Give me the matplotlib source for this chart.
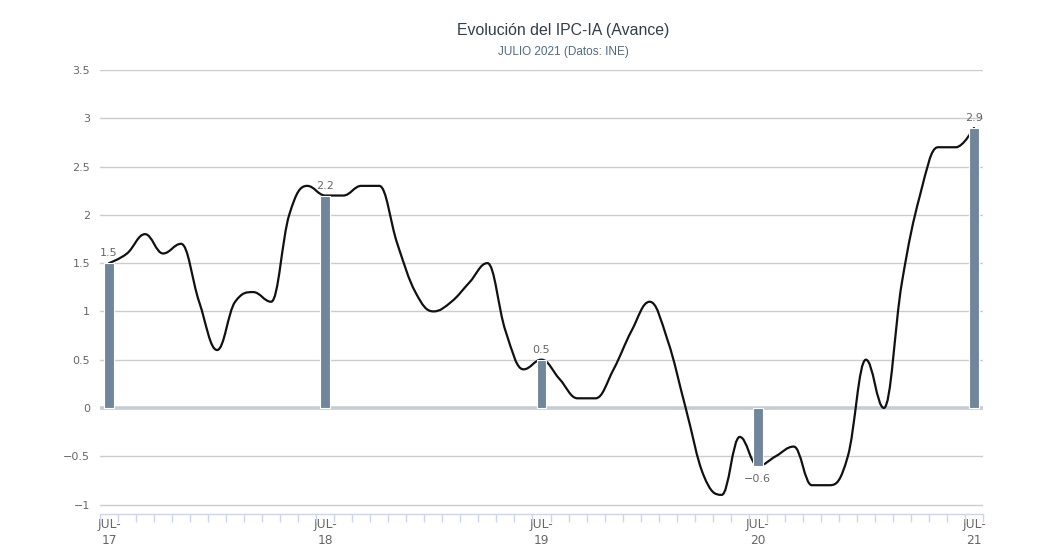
import matplotlib.pyplot as plt
from matplotlib.path import Path
from matplotlib.patches import PathPatch
import numpy as np

# IPC-IA tasa anual, jul-2017 .. jul-2021
meses = ['JUL-17', 'AGO-17', 'SEP-17', 'OCT-17', 'NOV-17', 'DIC-17',
         'ENE-18', 'FEB-18', 'MAR-18', 'ABR-18', 'MAY-18', 'JUN-18',
         'JUL-18', 'AGO-18', 'SEP-18', 'OCT-18', 'NOV-18', 'DIC-18',
         'ENE-19', 'FEB-19', 'MAR-19', 'ABR-19', 'MAY-19', 'JUN-19',
         'JUL-19', 'AGO-19', 'SEP-19', 'OCT-19', 'NOV-19', 'DIC-19',
         'ENE-20', 'FEB-20', 'MAR-20', 'ABR-20', 'MAY-20', 'JUN-20',
         'JUL-20', 'AGO-20', 'SEP-20', 'OCT-20', 'NOV-20', 'DIC-20',
         'ENE-21', 'FEB-21', 'MAR-21', 'ABR-21', 'MAY-21', 'JUN-21',
         'JUL-21']
ipc = [1.5, 1.6, 1.8, 1.6, 1.7, 1.1,
       0.6, 1.1, 1.2, 1.1, 2.0, 2.3,
       2.2, 2.2, 2.3, 2.3, 1.7, 1.2,
       1.0, 1.1, 1.3, 1.5, 0.8, 0.4,
       0.5, 0.3, 0.1, 0.1, 0.4, 0.8,
       1.1, 0.7, 0.0, -0.7, -0.9, -0.3,
       -0.6, -0.5, -0.4, -0.8, -0.8, -0.5,
       0.5, 0.0, 1.3, 2.2, 2.7, 2.7,
       2.9]
julios = ['JUL-17', 'JUL-18', 'JUL-19', 'JUL-20', 'JUL-21']
ipc_julio = [1.5, 2.2, 0.5, -0.6, 2.9]
etiquetas_x = ['JUL-\n17', 'JUL-\n18', 'JUL-\n19', 'JUL-\n20', 'JUL-\n21']


def spline_path(xs, ys, smoothing=1.5):
    # curva tipo "spline" de Highcharts
    denom = smoothing + 1
    n = len(xs)
    verts = [(xs[0], ys[0])]
    codes = [Path.MOVETO]
    right = [None] * n
    left = [None] * n
    for i in range(1, n - 1):
        px, py = xs[i], ys[i]
        lx, ly = xs[i - 1], ys[i - 1]
        nx, ny = xs[i + 1], ys[i + 1]
        lcx = (smoothing * px + lx) / denom
        lcy = (smoothing * py + ly) / denom
        rcx = (smoothing * px + nx) / denom
        rcy = (smoothing * py + ny) / denom
        if rcx != lcx:
            corr = (rcy - lcy) * (rcx - px) / (rcx - lcx) + py - rcy
            lcy += corr
            rcy += corr
        if lcy > ly and lcy > py:
            lcy = max(ly, py)
            rcy = 2 * py - lcy
        elif lcy < ly and lcy < py:
            lcy = min(ly, py)
            rcy = 2 * py - lcy
        if rcy > ny and rcy > py:
            rcy = max(ny, py)
            lcy = 2 * py - rcy
        elif rcy < ny and rcy < py:
            rcy = min(ny, py)
            lcy = 2 * py - rcy
        left[i] = (lcx, lcy)
        right[i] = (rcx, rcy)
    for i in range(1, n):
        c1 = right[i - 1] or (xs[i - 1], ys[i - 1])
        c2 = left[i] or (xs[i], ys[i])
        verts += [c1, c2, (xs[i], ys[i])]
        codes += [Path.CURVE4] * 3
    return Path(verts, codes)


fig = plt.figure(figsize=(10.44, 5.54), dpi=100)
ax = fig.add_axes([100 / 1044, 40.5 / 554, 883 / 1044, 443.5 / 554])

x = np.arange(len(meses))
pos_julio = [meses.index(m) for m in julios]

ax.set_xlim(-0.5, len(meses) - 0.5)
ax.set_ylim(-1.093, 3.5)

ax.set_yticks(np.arange(-1, 3.51, 0.5))
ax.set_yticklabels(['−1', '−0.5', '0', '0.5', '1', '1.5', '2', '2.5', '3', '3.5'])
ax.grid(axis='y', color='#cccccc', linewidth=1, zorder=0)
ax.axhline(0, color='#c3ced8', linewidth=2.6, zorder=1)

linea = PathPatch(spline_path(x.astype(float), ipc), facecolor='none',
                  edgecolor='#111111', linewidth=1.6, zorder=2,
                  capstyle='round', joinstyle='round')
ax.add_patch(linea)

ax.bar(pos_julio, ipc_julio, width=0.55, color='#72869b',
       edgecolor='white', linewidth=0.8, zorder=3)

for p, v in zip(pos_julio, ipc_julio):
    txt = f'{v:.1f}'.replace('-', '−')
    if v >= 0:
        ax.text(p, v + 0.05, txt, ha='center', va='bottom', fontsize=8,
                color='#666666', zorder=4)
    else:
        ax.text(p, v - 0.08, txt, ha='center', va='top', fontsize=8,
                color='#666666', zorder=4)

ax.set_xticks(pos_julio)
ax.set_xticklabels(etiquetas_x, fontsize=8.8, color='#666666', linespacing=1.35)
ax.set_xticks(np.arange(-0.5, len(meses)), minor=True)
ax.tick_params(axis='x', which='major', length=0, pad=3)
ax.tick_params(axis='x', which='minor', length=6, color='#ccd6eb', width=1)
ax.tick_params(axis='y', length=0, pad=7, labelsize=8, labelcolor='#666666')

for s in ['top', 'right', 'left']:
    ax.spines[s].set_visible(False)
ax.spines['bottom'].set_color('#ccd6eb')
ax.spines['bottom'].set_linewidth(1)

fig.text(563 / 1044, 1 - 30 / 554, 'Evolución del IPC-IA (Avance)',
         ha='center', va='center', fontsize=11.4, color='#333e48',
         family='Liberation Sans')
fig.text(563 / 1044, 1 - 52 / 554, 'JULIO 2021 (Datos: INE)',
         ha='center', va='center', fontsize=8.5, color='#4e6a85',
         family='Liberation Sans')

fig.savefig('out.png', dpi=100, facecolor='white')
